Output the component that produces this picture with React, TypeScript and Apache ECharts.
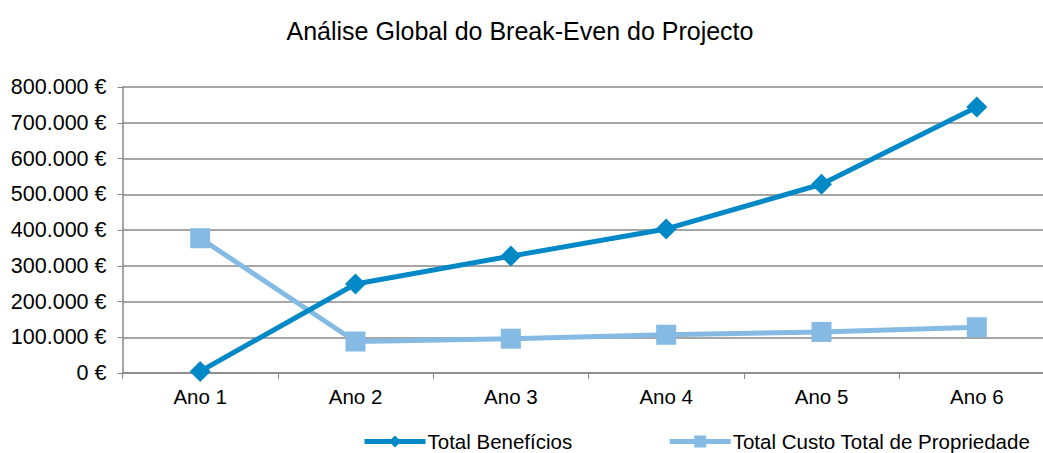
import React, { useEffect, useRef } from "react";
import * as echarts from "echarts";

const categories = ["Ano 1", "Ano 2", "Ano 3", "Ano 4", "Ano 5", "Ano 6"];
const beneficios = [4500, 249000, 327000, 403000, 528000, 744000];
const custo = [377000, 88000, 96000, 107000, 115000, 128000];
const yTicks = [0, 100000, 200000, 300000, 400000, 500000, 600000, 700000, 800000];

function fmt(v: number): string {
  if (v === 0) return "0 €";
  const s = Math.round(v).toString().replace(/\B(?=(\d{3})+(?!\d))/g, ".");
  return s + " €";
}

export default function App() {
  const ref = useRef<HTMLDivElement>(null);
  useEffect(() => {
    if (!ref.current) return;
    const chart = echarts.init(ref.current, undefined, { renderer: "svg" });
    const font = "Arial, 'Liberation Sans', sans-serif";
    chart.setOption({
      animation: false,
      backgroundColor: "#ffffff",
      title: {
        text: "Análise Global do Break-Even do Projecto",
        left: 515,
        textAlign: "center",
        top: 13,
        textStyle: { fontFamily: font, fontSize: 25, fontWeight: "normal", color: "#000" },
      },
      legend: {
        top: 426,
        left: 357,
        itemWidth: 61,
        itemHeight: 15,
        itemGap: 95,
        lineStyle: { width: 5 },
        textStyle: { fontFamily: font, fontSize: 20.5, color: "#000", padding: [0, 0, 0, -3] },
        data: ["Total Benefícios", "Total Custo Total de Propriedade"],
      },
      grid: { left: 122.5, width: 932, top: 87, bottom: 80, containLabel: false, outerBoundsMode: "none" },
      xAxis: {
        type: "category",
        data: categories,
        boundaryGap: true,
        axisLine: { lineStyle: { color: "#888", width: 1.5 } },
        axisTick: { show: true, length: 6, inside: false, lineStyle: { color: "#888" } },
        axisLabel: { fontFamily: font, fontSize: 20.5, color: "#000", margin: 13 },
      },
      yAxis: {
        type: "value",
        min: yTicks[0],
        max: yTicks[yTicks.length - 1],
        interval: 100000,
        axisLine: { show: true, lineStyle: { color: "#888", width: 1.5 } },
        axisTick: { show: true, length: 5, lineStyle: { color: "#888" } },
        splitLine: { show: true, lineStyle: { color: "#888", width: 1.5 } },
        axisLabel: { fontFamily: font, fontSize: 21.5, color: "#000", margin: 16, formatter: (v: number) => fmt(v) },
      },
      series: [
        {
          name: "Total Benefícios",
          type: "line",
          data: beneficios,
          symbol: "diamond",
          symbolSize: 21,
          lineStyle: { width: 5, color: "#0089C6" },
          itemStyle: { color: "#0089C6" },
          z: 3,
        },
        {
          name: "Total Custo Total de Propriedade",
          type: "line",
          data: custo,
          symbol: "rect",
          symbolSize: 20,
          lineStyle: { width: 5, color: "#85BAE4" },
          itemStyle: { color: "#85BAE4" },
          z: 2,
        },
      ],
    });
    return () => chart.dispose();
  }, []);
  return <div ref={ref} style={{ width: 1043, height: 453, position: "absolute", left: 0, top: 0 }} />;
}
